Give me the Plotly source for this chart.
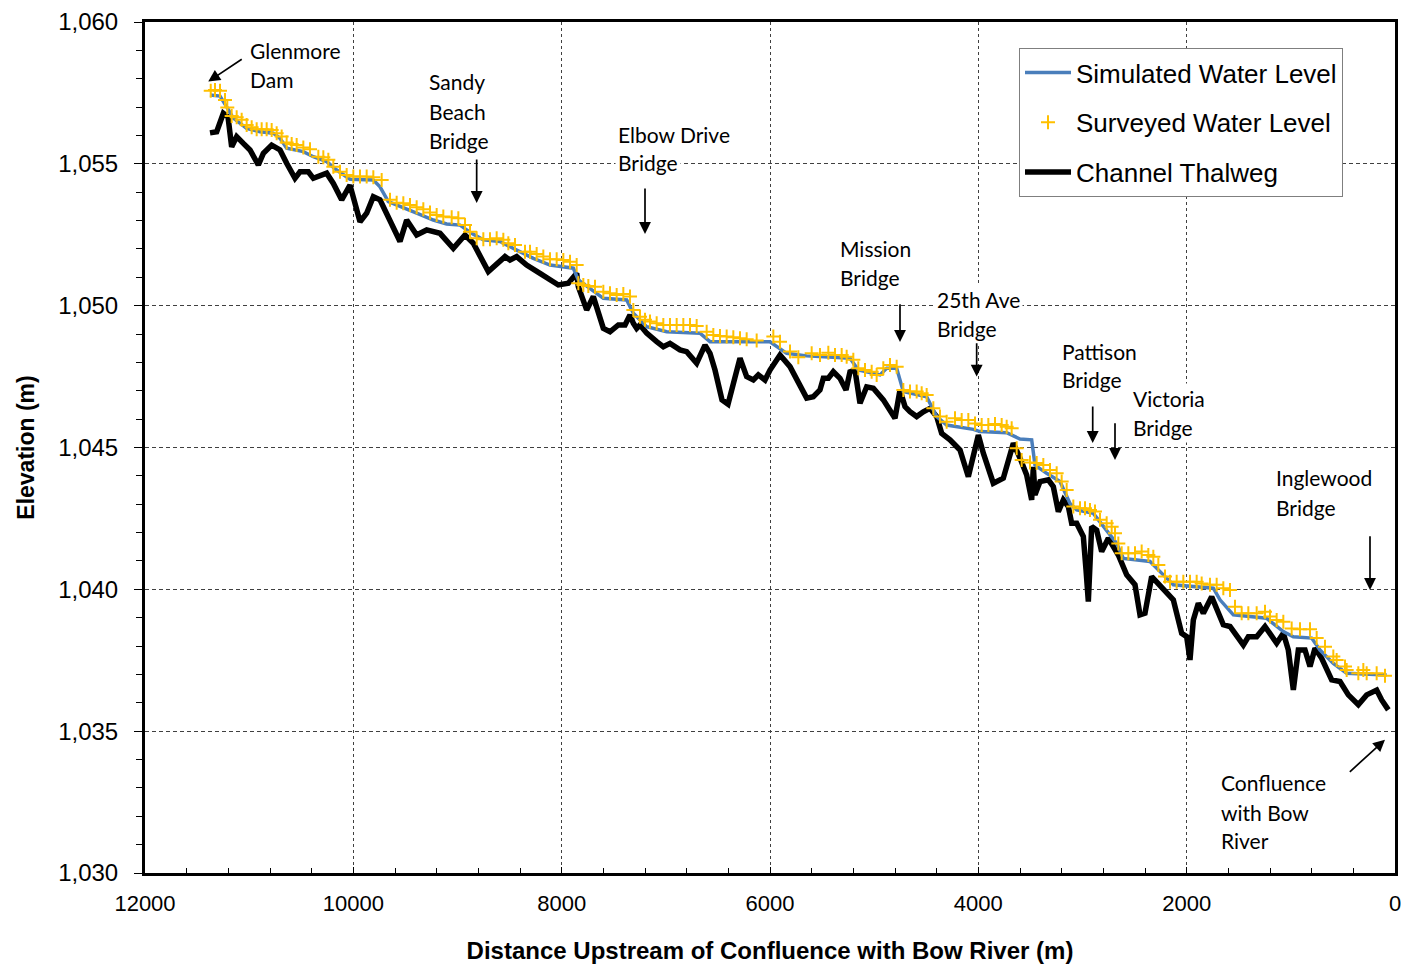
import plotly.graph_objects as go

# ---------------- data ----------------
thalweg_x = [11376, 11312, 11248, 11203, 11168, 11120, 11056, 10992, 10912, 10864, 10784, 10704, 10640, 10560,
             10512, 10432, 10384, 10304, 10256, 10192, 10112, 10032, 9936, 9872, 9808, 9744, 9664, 9552, 9488,
             9440, 9392, 9296, 9168, 9040, 8928, 8848, 8704, 8544, 8496, 8432, 8336, 8208, 8080, 8032, 7936,
             7856, 7840, 7760, 7696, 7600, 7536, 7456, 7392, 7344, 7312, 7280, 7248, 7184, 7088, 7024, 6960,
             6864, 6800, 6704, 6624, 6576, 6528, 6461, 6403, 6355, 6288, 6224, 6160, 6112, 6048, 6000, 5904,
             5808, 5712, 5648, 5584, 5520, 5488, 5440, 5392, 5328, 5270, 5232, 5184, 5136, 5072, 5008, 4912,
             4800, 4752, 4704, 4656, 4592, 4528, 4464, 4400, 4352, 4272, 4176, 4096, 4048, 4000, 3952, 3856,
             3760, 3664, 3600, 3536, 3488, 3472, 3456, 3408, 3328, 3280, 3232, 3184, 3136, 3104, 3056, 2992,
             2966, 2944, 2912, 2864, 2816, 2752, 2704, 2656, 2576, 2496, 2448, 2400, 2336, 2256, 2128, 2048,
             2000, 1968, 1936, 1888, 1840, 1760, 1648, 1584, 1520, 1456, 1408, 1328, 1248, 1184, 1136, 1072,
             1024, 976, 928, 864, 816, 768, 704, 608, 528, 448, 352, 272, 176, 128, 64]
thalweg_y = [1056.09, 1056.13, 1056.78, 1056.65, 1055.60, 1055.96, 1055.72, 1055.49, 1054.96, 1055.37, 1055.66,
             1055.49, 1055.02, 1054.49, 1054.72, 1054.72, 1054.49, 1054.61, 1054.67, 1054.31, 1053.73, 1054.25,
             1052.96, 1053.26, 1053.84, 1053.73, 1053.14, 1052.26, 1053.02, 1052.78, 1052.49, 1052.67, 1052.55,
             1052.02, 1052.49, 1052.20, 1051.20, 1051.73, 1051.61, 1051.73, 1051.43, 1051.14, 1050.85, 1050.73,
             1050.79, 1051.14, 1050.67, 1049.85, 1050.32, 1049.20, 1049.08, 1049.32, 1049.32, 1049.67, 1049.38,
             1049.20, 1049.32, 1049.03, 1048.73, 1048.55, 1048.67, 1048.44, 1048.38, 1047.97, 1048.61, 1048.32,
             1047.73, 1046.68, 1046.53, 1047.20, 1048.15, 1047.50, 1047.38, 1047.56, 1047.38, 1047.73, 1048.26,
             1047.85, 1047.14, 1046.74, 1046.79, 1047.03, 1047.44, 1047.44, 1047.67, 1047.44, 1047.03, 1047.67,
             1047.73, 1046.56, 1047.14, 1047.09, 1046.68, 1046.03, 1047.03, 1046.44, 1046.26, 1046.09, 1046.26,
             1046.38, 1046.09, 1045.50, 1045.27, 1044.91, 1043.97, 1044.80, 1045.44, 1044.80, 1043.74, 1043.92,
             1045.15, 1044.63, 1044.03, 1043.15, 1044.32, 1043.33, 1043.80, 1043.86, 1043.62, 1042.74, 1043.15,
             1042.92, 1042.33, 1042.33, 1041.86, 1040.68, 1039.57, 1042.21, 1042.09, 1041.33, 1041.80, 1041.51,
             1041.21, 1040.51, 1040.16, 1039.10, 1039.16, 1040.45, 1040.16, 1039.63, 1038.45, 1038.33, 1037.51,
             1038.92, 1039.51, 1039.16, 1039.74, 1038.75, 1038.69, 1038.33, 1038.04, 1038.33, 1038.33, 1038.69,
             1038.33, 1038.10, 1038.45, 1037.86, 1036.45, 1037.86, 1037.86, 1037.28, 1037.92, 1037.57, 1036.81,
             1036.75, 1036.28, 1035.93, 1036.28, 1036.45, 1036.10, 1035.75]

simulated_x = [11376, 11280, 11216, 11152, 11024, 10896, 10768, 10704, 10640, 10480, 10384, 10256, 10160, 10032,
               9808, 9744, 9664, 9552, 9392, 9232, 9104, 8976, 8864, 8752, 8592, 8432, 8272, 8112, 7888, 7840,
               7728, 7600, 7376, 7312, 7184, 6992, 6672, 6576, 6000, 5840, 5648, 5232, 5152, 4944, 4880, 4784,
               4720, 4496, 4400, 4304, 4048, 3984, 3728, 3600, 3488, 3456, 3344, 3216, 3120, 3056, 2896, 2768,
               2672, 2608, 2352, 2224, 2128, 1744, 1680, 1552, 1232, 1072, 976, 800, 720, 592, 464, 80]
simulated_y = [1057.43, 1057.39, 1057.01, 1056.61, 1056.25, 1056.13, 1056.08, 1055.90, 1055.55, 1055.43, 1055.25,
               1055.08, 1054.78, 1054.46, 1054.43, 1054.19, 1053.67, 1053.49, 1053.26, 1053.02, 1052.88, 1052.84,
               1052.55, 1052.32, 1052.26, 1051.96, 1051.67, 1051.43, 1051.32, 1050.91, 1050.61, 1050.26, 1050.20,
               1049.73, 1049.26, 1049.08, 1049.03, 1048.73, 1048.73, 1048.32, 1048.23, 1048.15, 1047.73, 1047.56,
               1047.79, 1047.79, 1046.97, 1046.79, 1046.09, 1045.79, 1045.64, 1045.56, 1045.52, 1045.30, 1045.27,
               1044.38, 1044.09, 1043.80, 1043.03, 1042.80, 1042.68, 1042.09, 1041.62, 1041.09, 1040.98, 1040.51,
               1040.16, 1040.04, 1039.63, 1039.10, 1038.98, 1038.51, 1038.33, 1038.28, 1037.86, 1037.39, 1037.04,
               1036.98]

surveyed_x = [11369, 11328, 11280, 11232, 11210, 11168, 11120, 11072, 11024, 10976, 10928, 10880, 10832, 10784,
              10736, 10688, 10640, 10592, 10544, 10480, 10416, 10336, 10288, 10240, 10192, 10128, 10064, 10000,
              9936, 9872, 9808, 9728, 9648, 9584, 9520, 9456, 9392, 9328, 9264, 9200, 9136, 9056, 8992, 8928,
              8880, 8816, 8752, 8688, 8624, 8560, 8512, 8448, 8352, 8304, 8240, 8176, 8112, 8048, 7984, 7920,
              7856, 7840, 7792, 7744, 7680, 7600, 7536, 7472, 7408, 7344, 7312, 7248, 7200, 7152, 7088, 7024,
              6960, 6896, 6832, 6768, 6704, 6608, 6544, 6480, 6416, 6352, 6288, 6224, 6128,
              5968, 5904, 5808, 5728, 5600, 5520, 5440, 5376, 5312, 5264, 5200, 5152, 5088, 5024, 4976, 4912,
              4848, 4784, 4720, 4656, 4592, 4544, 4496, 4432, 4368, 4304, 4224, 4160, 4096, 4032, 3968, 3904,
              3840, 3776, 3728, 3680, 3632, 3584, 3504, 3440, 3376, 3312, 3248, 3200, 3152, 3088, 3024, 2976,
              2928, 2880, 2832, 2768, 2720, 2688, 2656, 2624, 2560, 2496, 2432, 2368, 2320, 2272, 2208, 2160,
              2096, 2032, 1968, 1904, 1856, 1776, 1712, 1648, 1584, 1536, 1472, 1408, 1328, 1248, 1200, 1136,
              1072, 992, 912, 816, 752, 672, 592, 560, 480, 464, 352, 304, 272, 176, 96]
surveyed_y = [1057.58, 1057.60, 1057.58, 1057.25, 1056.99, 1056.69, 1056.64, 1056.55, 1056.37, 1056.29, 1056.22,
              1056.22, 1056.22, 1056.19, 1056.08, 1055.96, 1055.75, 1055.70, 1055.66, 1055.58, 1055.51, 1055.25,
              1055.23, 1055.14, 1054.90, 1054.72, 1054.61, 1054.55, 1054.55, 1054.55, 1054.53, 1054.43, 1053.73,
              1053.63, 1053.61, 1053.55, 1053.47, 1053.40, 1053.28, 1053.20, 1053.14, 1053.12, 1053.08, 1052.84,
              1052.61, 1052.38, 1052.34, 1052.34, 1052.38, 1052.32, 1052.20, 1052.14, 1051.90, 1051.90, 1051.82,
              1051.73, 1051.64, 1051.64, 1051.61, 1051.55, 1051.43, 1050.79, 1050.73, 1050.69, 1050.67, 1050.49,
              1050.44, 1050.38, 1050.41, 1050.32, 1049.85, 1049.61, 1049.50, 1049.44, 1049.38, 1049.32, 1049.32,
              1049.32, 1049.32, 1049.32, 1049.28, 1049.08, 1048.97, 1048.93, 1048.91, 1048.89, 1048.85, 1048.82,
              1048.77,
              1048.91, 1048.73, 1048.38, 1048.18, 1048.32, 1048.26, 1048.34, 1048.26, 1048.26, 1048.20, 1048.09,
              1047.79, 1047.73, 1047.67, 1047.56, 1047.79, 1047.91, 1047.85, 1047.03, 1046.97, 1046.97, 1046.91,
              1046.85, 1046.38, 1046.09, 1045.91, 1046.03, 1045.97, 1045.97, 1045.85, 1045.79, 1045.79, 1045.83,
              1045.79, 1045.73, 1045.68, 1044.97, 1044.56, 1044.47, 1044.45, 1044.38, 1044.21, 1044.09, 1043.80,
              1043.50, 1042.92, 1042.86, 1042.86, 1042.80, 1042.74, 1042.45, 1042.33, 1042.21, 1041.98, 1041.62,
              1041.27, 1041.27, 1041.27, 1041.33, 1041.21, 1041.15, 1040.86, 1040.45, 1040.27, 1040.27, 1040.27,
              1040.27, 1040.27, 1040.21, 1040.16, 1040.16, 1040.04, 1039.98, 1039.39, 1039.16, 1039.16, 1039.16,
              1039.21, 1039.04, 1038.92, 1038.86, 1038.62, 1038.59, 1038.59, 1038.28, 1037.98, 1037.63, 1037.51,
              1037.28, 1037.16, 1037.04, 1037.16, 1037.04, 1037.04, 1036.95]

assert len(thalweg_x) == len(thalweg_y)
assert len(simulated_x) == len(simulated_y)
assert len(surveyed_x) == len(surveyed_y)

x_ticks = [12000, 10000, 8000, 6000, 4000, 2000, 0]

# text labels: (lines, left x, y of each line)
label_lines = [
    (["Glenmore", "Dam"], 11021, [1058.98, 1057.96]),
    (["Sandy", "Beach", "Bridge"], 9302, [1057.89, 1056.86, 1055.84]),
    (["Elbow Drive", "Bridge"], 7488, [1056.05, 1055.03]),
    (["Mission", "Bridge"], 5357, [1052.00, 1050.98]),
    (["25th Ave", "Bridge"], 4426, [1050.20, 1049.18]),
    (["Pattison", "Bridge"], 3226, [1048.40, 1047.38]),
    (["Victoria", "Bridge"], 2540, [1046.71, 1045.69]),
    (["Inglewood", "Bridge"], 1171, [1043.93, 1042.90]),
    (["Confluence", "with Bow", "River"], 1700, [1033.18, 1032.15, 1031.13]),
]
# arrows: (tail x, tail y, head x, head y)
arrows = [
    (11057, 1058.72, 11393, 1057.90),
    (8816, 1055.21, 8816, 1053.62),
    (7200, 1054.18, 7200, 1052.53),
    (4752, 1050.10, 4752, 1048.72),
    (4016, 1048.73, 4016, 1047.50),
    (2902, 1046.50, 2902, 1045.16),
    (2688, 1045.91, 2688, 1044.56),
    (240, 1041.92, 240, 1039.98),
    (448, 1033.52, 96, 1034.70),
]

# ---------------- figure ----------------
fig = go.Figure()
fig.add_trace(go.Scatter(x=thalweg_x, y=thalweg_y, mode="lines", name="Channel Thalweg",
                         line=dict(color="black", width=5.5), legendrank=3, legendgroup="c"))
fig.add_trace(go.Scatter(x=simulated_x, y=simulated_y, mode="lines", name="Simulated Water Level",
                         line=dict(color="#4A7EBB", width=3.5), legendrank=1, legendgroup="a"))
fig.add_trace(go.Scatter(x=surveyed_x, y=surveyed_y, mode="markers", name="Surveyed Water Level",
                         marker=dict(symbol="cross-thin", size=10, line=dict(color="#FFC000", width=2),
                                     color="#FFC000"), legendrank=2, legendgroup="b"))

ann_font = dict(family="Lato", size=21, color="black")
annotations = []
for lines, lx, ys in label_lines:
    for txt, ly in zip(lines, ys):
        annotations.append(dict(x=lx, y=ly, xref="x", yref="y", text=txt, showarrow=False,
                                xanchor="left", yanchor="middle", font=ann_font,
                                bgcolor="white", borderpad=2))
for tx, ty, hx, hy in arrows:
    annotations.append(dict(x=hx, y=hy, ax=tx, ay=ty, xref="x", yref="y", axref="x", ayref="y",
                            text="", showarrow=True, arrowhead=2, arrowsize=1.4, arrowwidth=1.7,
                            arrowcolor="black", standoff=0))

tick_font = dict(family="Liberation Sans", size=22, color="black")
fig.update_layout(
    template="none",
    width=1403, height=964, autosize=False,
    margin=dict(l=145, r=8, t=22, b=91),
    paper_bgcolor="white", plot_bgcolor="white",
    showlegend=True,
    legend=dict(x=0.6992, y=0.9694, xanchor="left", yanchor="top",
                bgcolor="white", bordercolor="#7F7F7F", borderwidth=1,
                font=dict(family="Liberation Sans", size=26, color="black"),
                traceorder="grouped", tracegroupgap=13, itemwidth=46),
    annotations=annotations,
    xaxis=dict(range=[12000, 0], tickvals=x_ticks, tickformat="d", automargin=False,
               showline=True, linewidth=3, linecolor="black", mirror=True,
               showgrid=True, gridcolor="#404040", gridwidth=1, griddash="3px,3px",
               ticks="inside", ticklen=6, tickwidth=1, tickcolor="black",
               minor=dict(dtick=400, ticks="inside", ticklen=5, tickcolor="black", showgrid=False),
               tickfont=tick_font, ticklabelstandoff=9, zeroline=False,
               title=dict(text="<b>Distance Upstream of Confluence with Bow River (m)</b>",
                          font=dict(family="Liberation Sans", size=24, color="black"), standoff=28)),
    yaxis=dict(range=[1030, 1060], dtick=5, tick0=1030, tickformat=",d", automargin=False,
               showline=True, linewidth=3, linecolor="black", mirror=True,
               showgrid=True, gridcolor="#404040", gridwidth=1, griddash="4px,3px",
               ticks="outside", ticklen=8, tickwidth=1, tickcolor="black",
               minor=dict(dtick=1, ticks="outside", ticklen=6, tickcolor="black", showgrid=False),
               tickfont=dict(family="Liberation Sans", size=24, color="black"), ticklabelstandoff=11,
               zeroline=False,
               title=dict(text="<b>Elevation (m)</b>",
                          font=dict(family="Liberation Sans", size=23, color="black"), standoff=18)),
)

fig.write_html("out.html")
